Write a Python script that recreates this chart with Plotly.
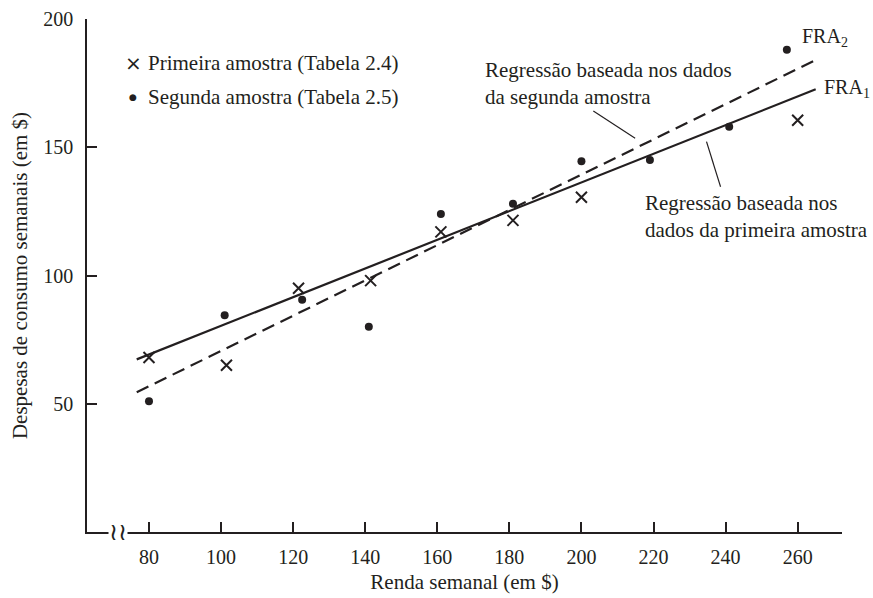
import plotly.graph_objects as go

# --- data ---
x1 = [80, 101.5, 121.5, 141.5, 161, 181, 200, 260]
y1 = [68, 65, 95, 98, 117, 121.5, 130.5, 160.5]

x2 = [80, 101, 122.5, 141, 161, 181, 200, 219, 241, 257]
y2 = [51, 84.5, 90.5, 80, 124, 128, 144.5, 145, 158, 188]

line_x = [76.6, 265]
fra1_y = [67.3, 172.6]
fra2_y = [54.5, 184.0]

xticks = [80, 100, 120, 140, 160, 180, 200, 220, 240, 260]
yticks = [50, 100, 150, 200]

FONT = "Liberation Serif, Times New Roman, serif"
INK = "#231f20"

fig = go.Figure()
fig.add_trace(go.Scatter(x=line_x, y=fra1_y, mode="lines",
                         line=dict(color=INK, width=2.2), showlegend=False))
fig.add_trace(go.Scatter(x=line_x, y=fra2_y, mode="lines",
                         line=dict(color=INK, width=2.2, dash="13px,7px"), showlegend=False))
fig.add_trace(go.Scatter(x=x1, y=y1, mode="markers",
                         marker=dict(symbol="x-thin-open", size=11, color=INK,
                                     line=dict(color=INK, width=2)), showlegend=False))
fig.add_trace(go.Scatter(x=x2, y=y2, mode="markers",
                         marker=dict(symbol="circle", size=8, color=INK), showlegend=False))

tf = dict(family=FONT, size=21, color=INK)
ff = dict(family=FONT, size=20, color=INK)

ann = []
# legend
ann.append(dict(x=75.6, y=182.7, text="×", showarrow=False, xanchor="center", yanchor="middle",
                font=dict(family="DejaVu Sans", size=20, color=INK)))
ann.append(dict(x=75.6, y=169.6, text="●", showarrow=False, xanchor="center", yanchor="middle",
                font=dict(family="DejaVu Sans", size=9, color=INK)))
ann.append(dict(x=79.2, y=182.7, text="Primeira amostra (Tabela 2.4)", showarrow=False,
                xanchor="left", yanchor="middle", font=tf))
ann.append(dict(x=79.2, y=169.6, text="Segunda amostra (Tabela 2.5)", showarrow=False,
                xanchor="left", yanchor="middle", font=tf))
# line labels
ann.append(dict(x=172.8, y=174.9, text="Regressão baseada nos dados<br>da segunda amostra",
                showarrow=False, xanchor="left", yanchor="middle", align="left", font=tf))
ann.append(dict(x=217.0, y=123.1, text="Regressão baseada nos<br>dados da primeira amostra",
                showarrow=False, xanchor="left", yanchor="middle", align="left", font=tf))
ann.append(dict(x=260.6, y=192.6, text="FRA<sub>2</sub>", showarrow=False,
                xanchor="left", yanchor="middle", font=ff))
ann.append(dict(x=266.8, y=173.1, text="FRA<sub>1</sub>", showarrow=False,
                xanchor="left", yanchor="middle", font=ff))
# axis break
ann.append(dict(x=71.4, y=0, text="≀≀", showarrow=False, xanchor="center", yanchor="middle",
                bgcolor="white", borderpad=0, font=dict(family="DejaVu Serif", size=24, color=INK)))

shapes = [
    dict(type="line", x0=203.3, y0=164.1, x1=214.9, y1=153.5, line=dict(color=INK, width=1.2)),
    dict(type="line", x0=234.7, y0=152.2, x1=238.6, y1=134.6, line=dict(color=INK, width=1.2)),
]

fig.update_layout(
    width=873, height=598,
    margin=dict(l=87, r=31, t=19, b=66, autoexpand=False),
    plot_bgcolor="white", paper_bgcolor="white",
    font=dict(family=FONT, size=20, color=INK),
    annotations=ann, shapes=shapes,
    xaxis=dict(range=[62.8, 272.3], tickvals=xticks, ticks="inside", ticklen=10, tickwidth=1.5,
               tickcolor=INK, showline=True, linecolor=INK, linewidth=1.5, showgrid=False,
               zeroline=False, ticklabelstandoff=6, tickfont=dict(family=FONT, size=20, color=INK),
               title=dict(text="Renda semanal (em $)", standoff=8, font=tf)),
    yaxis=dict(range=[0, 200], tickvals=yticks, ticks="inside", ticklen=10, tickwidth=1.5,
               tickcolor=INK, showline=True, linecolor=INK, linewidth=1.5, showgrid=False,
               zeroline=False, ticklabelstandoff=8, tickfont=dict(family=FONT, size=20, color=INK),
               title=dict(text="Despesas de consumo semanais (em $)", standoff=10, font=tf)),
)

fig.write_html("out.html")
